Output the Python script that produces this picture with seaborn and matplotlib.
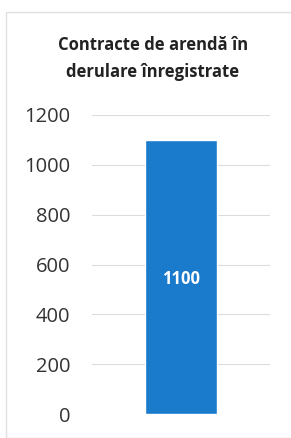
import matplotlib
matplotlib.use("Agg")
import matplotlib.pyplot as plt
import seaborn as sns
import pandas as pd
from matplotlib.patches import Rectangle

categories = ["Contracte de arendă în derulare înregistrate"]
values = [1100]
yticks = [0, 200, 400, 600, 800, 1000, 1200]
title = "Contracte de arendă în\nderulare înregistrate"

sns.set_theme(style="white")
plt.rcParams['font.family'] = ['Open Sans', 'DejaVu Sans']

df = pd.DataFrame({"cat": categories, "val": values})

fig = plt.figure(figsize=(2.91, 4.38), dpi=100)
fig.patch.set_facecolor("white")
ax = fig.add_axes([92/291, 1-414/438, 178/291, 299/438])

sns.barplot(data=df, x="cat", y="val", color="#1a7acb", saturation=1, width=0.4, ax=ax, zorder=3)
ax.set_xlim(-0.5, 0.5)
ax.set_ylim(0, 1200)
ax.set_yticks(yticks)
ax.set_yticklabels([str(t) for t in yticks], fontsize=14.5, color="#333333")
ax.tick_params(axis='y', length=0, pad=15.5)
ax.set_xticks([])
ax.set_xlabel("")
ax.set_ylabel("")
for s in ax.spines.values():
    s.set_visible(False)
ax.yaxis.grid(True, color="#dcdcdc", linewidth=0.8, zorder=0)
ax.set_axisbelow(True)

for p, v in zip(ax.patches, values):
    ax.text(p.get_x() + p.get_width()/2, v/2 - 10, str(v), ha="center", va="center",
            color="white", fontsize=12, fontweight="bold")

fig.text(153/291, 1-58.5/438, title, ha="center", va="center", fontsize=12,
         fontweight="bold", color="#222222", linespacing=1.6)

fig.patches.append(Rectangle((6/291, 0), 1.2, 1-12/438, transform=fig.transFigure,
                             fill=False, edgecolor="#e0e0e0", linewidth=1))

fig.savefig("out.png", dpi=100)
